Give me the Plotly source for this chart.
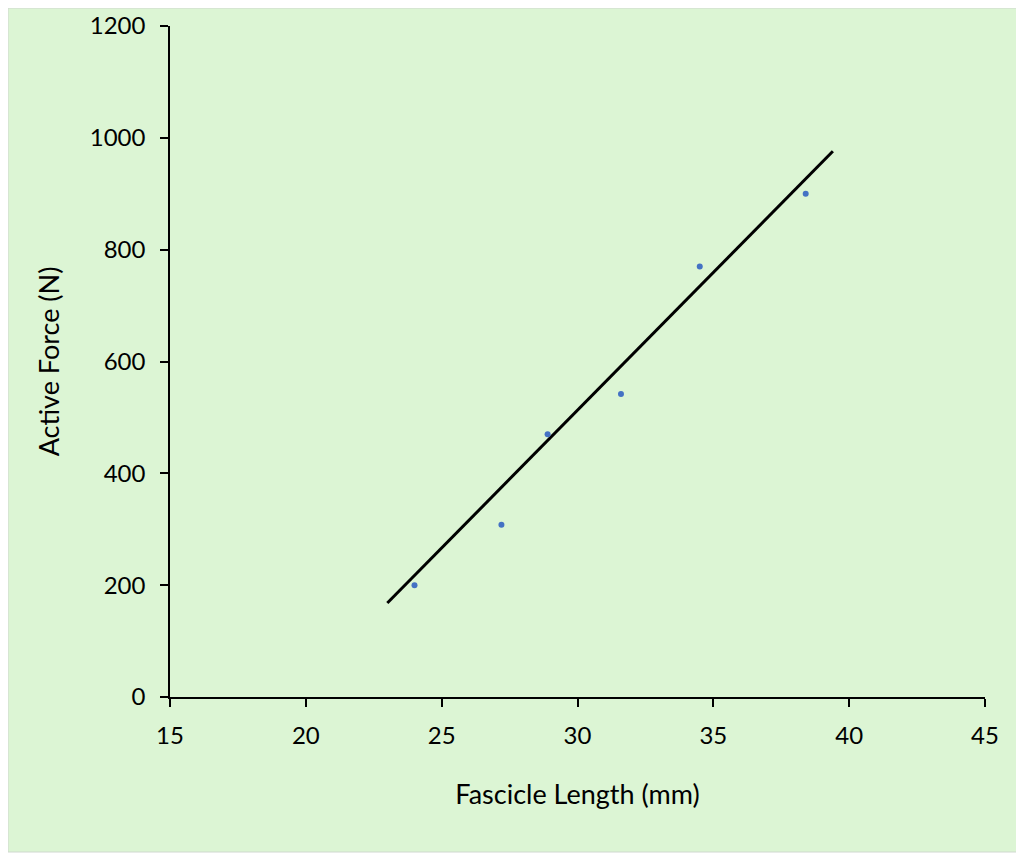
import plotly.graph_objects as go

# Data
fascicle_length = [24.0, 27.2, 28.9, 31.6, 34.5, 38.4]
active_force = [200, 308, 470, 542, 770, 900]

# Linear trendline endpoints as drawn
trend_x = [23.0, 39.4]
trend_y = [168, 976]

x_ticks = [15, 20, 25, 30, 35, 40, 45]
y_ticks = [0, 200, 400, 600, 800, 1000, 1200]

BG = "#DCF5D4"
FONT = "Lato, 'Open Sans', sans-serif"

# page is offset by 8px body margin
W, H = 1016, 854
L, T = 162, 18
PW, PH = 815, 671

fig = go.Figure()
fig.add_trace(go.Scatter(
    x=trend_x, y=trend_y, mode="lines",
    line=dict(color="black", width=3),
    showlegend=False, hoverinfo="skip",
))
fig.add_trace(go.Scatter(
    x=fascicle_length, y=active_force, mode="markers",
    marker=dict(color="#4472C4", size=6),
    showlegend=False,
))

fig.update_layout(
    width=W, height=H,
    margin=dict(l=L, r=W - L - PW, t=T, b=H - T - PH),
    paper_bgcolor="white",
    plot_bgcolor="rgba(0,0,0,0)",
    font=dict(family=FONT, size=24, color="black"),
    shapes=[dict(
        type="rect", xref="paper", yref="paper", layer="below",
        x0=-L / PW, x1=(1010 - L) / PW,
        y0=-(844 - T - PH) / PH, y1=(T + PH) / PH,
        fillcolor=BG, line=dict(color="#CFD8CF", width=1),
    )],
    xaxis=dict(
        range=[15, 45], tickvals=x_ticks, ticks="outside", ticklen=8,
        tickwidth=1.5, tickcolor="black",
        showline=True, linecolor="black", linewidth=1.5,
        showgrid=False, zeroline=False, automargin=False,
        ticklabelstandoff=8,
        title=dict(text="Fascicle Length (mm)", standoff=38,
                   font=dict(size=27)),
        tickfont=dict(size=24),
    ),
    yaxis=dict(
        range=[0, 1200], tickvals=y_ticks, ticks="outside", ticklen=8,
        tickwidth=1.5, tickcolor="black",
        showline=True, linecolor="black", linewidth=1.5,
        showgrid=False, zeroline=False, automargin=False,
        ticklabelstandoff=10,
        title=dict(text="Active Force (N)", standoff=22,
                   font=dict(size=27)),
        tickfont=dict(size=24),
    ),
)

fig.write_html("out.html")
